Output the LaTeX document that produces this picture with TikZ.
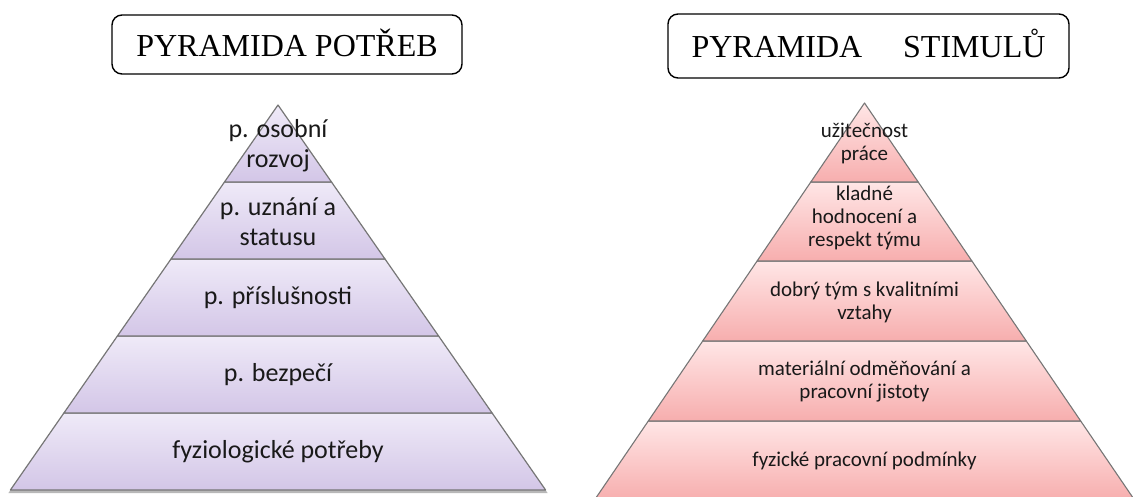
\documentclass[tikz,border=0pt]{standalone}
\usepackage{fontspec}
\setmainfont{Liberation Serif}
\newfontfamily\labelfont{Carlito}
\usetikzlibrary{shadows}

\definecolor{lavTop}{RGB}{239,234,248}
\definecolor{lavBot}{RGB}{211,198,231}
\definecolor{pinkTop}{RGB}{255,230,230}
\definecolor{pinkBot}{RGB}{247,174,174}
\definecolor{edgegray}{RGB}{118,118,118}
\definecolor{labelink}{RGB}{25,25,25}

\begin{document}
\begin{tikzpicture}[x=1pt,y=-1pt,
  titlebox/.style={draw=black, line width=1.4pt, rounded corners=10pt,
    inner sep=0pt, text height=24pt, text depth=0pt,
    font=\fontsize{32}{38}\selectfont},
  lavlayer/.style={draw=edgegray, line width=1.2pt, line join=round,
    top color=lavTop, bottom color=lavBot},
  pinklayer/.style={draw=edgegray, line width=1.1pt, line join=round,
    top color=pinkTop, bottom color=pinkBot},
  needlbl/.style={align=center, text=labelink, inner sep=0pt,
    font=\labelfont\fontsize{26}{30}\selectfont},
  stimlbl/.style={align=center, text=labelink, inner sep=0pt,
    font=\labelfont\fontsize{21}{23}\selectfont}
]
\useasboundingbox (0,0) rectangle (1133,497);

% titles
\node[titlebox, minimum width=350pt, minimum height=59pt] (tneeds) at (287,44.5) {PYRAMIDA POTŘEB};
\node[titlebox, minimum width=401pt, minimum height=64pt] (tstim) at (868.5,46) {PYRAMIDA\hspace{41pt}STIMULŮ};

% pyramid of needs: shadow of the whole outline, then the five layers
\fill[black, opacity=0.28] (278,107) -- (547.6,493) -- (8.4,493) -- cycle;
\path[lavlayer] (10.4,490) -- (545.6,490) -- (492.1,413) -- (63.9,413) -- cycle;
\path[lavlayer] (63.9,413) -- (492.1,413) -- (438.6,336) -- (117.4,336) -- cycle;
\path[lavlayer] (117.4,336) -- (438.6,336) -- (385.0,259) -- (171.0,259) -- cycle;
\path[lavlayer] (171.0,259) -- (385.0,259) -- (331.5,182) -- (224.5,182) -- cycle;
\path[lavlayer] (224.5,182) -- (331.5,182) -- (278,105) -- cycle;

\node[needlbl] (n1) at (278,146) {p. osobní\\rozvoj};
\node[needlbl] (n2) at (278,222) {p. uznání a\\statusu};
\node[needlbl] (n3) at (278,298) {p. příslušnosti};
\node[needlbl] (n4) at (278,375) {p. bezpečí};
\node[needlbl] (n5) at (278,452) {fyziologické potřeby};

% pyramid of stimuli: the base runs past the lower edge
\path[pinklayer] (594.5,500) -- (648.3,421) -- (1080.7,421) -- (1134.5,500);
\path[pinklayer] (648.3,421) -- (1080.7,421) -- (1026.3,341) -- (702.7,341) -- cycle;
\path[pinklayer] (702.7,341) -- (1026.3,341) -- (971.9,261) -- (757.1,261) -- cycle;
\path[pinklayer] (757.1,261) -- (971.9,261) -- (918.2,182) -- (810.8,182) -- cycle;
\path[pinklayer] (810.8,182) -- (918.2,182) -- (864.5,103) -- cycle;

\node[stimlbl] (s1) at (864.5,143) {užitečnost\\práce};
\node[stimlbl] (s2) at (864.5,218) {kladné\\hodnocení a\\respekt týmu};
\node[stimlbl] (s3) at (864.5,302) {dobrý tým s kvalitními\\vztahy};
\node[stimlbl] (s4) at (864.5,382) {materiální odměňování a\\pracovní jistoty};
\node[stimlbl] (s5) at (864.5,461) {fyzické pracovní podmínky};
\end{tikzpicture}
\end{document}
